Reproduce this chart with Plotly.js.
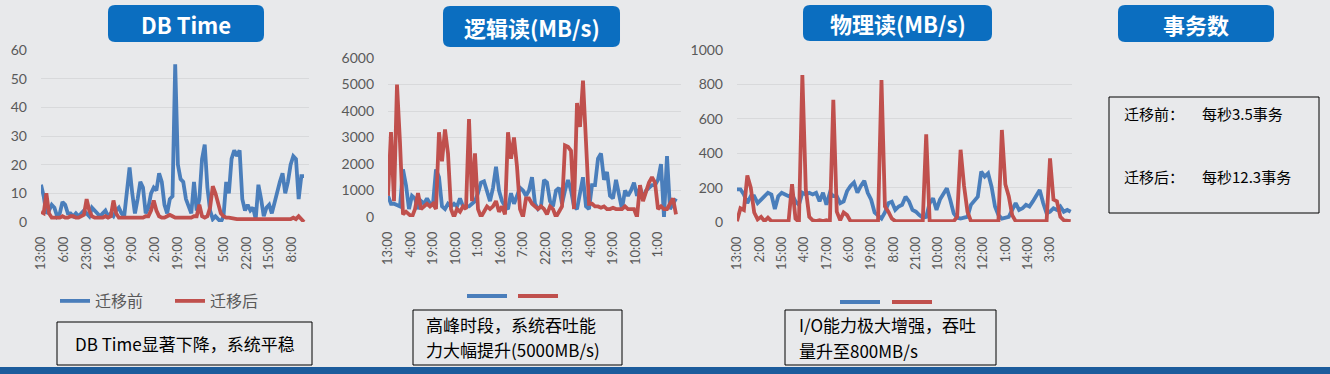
<!DOCTYPE html>
<html><head><meta charset="utf-8">
<script src="https://cdn.plot.ly/plotly-3.0.1.min.js"></script>
<style>html,body{margin:0;padding:0;background:#e8e9eb;}#chart{width:1330px;height:374px;}</style>
</head><body><div id="chart"></div>
<script>
// ---------- DATA ----------
// Hour-indexed series, sampled every 2 hours (index 0,2,4,...)
const dbTimeTickLabels = ["13:00","6:00","23:00","16:00","9:00","2:00","19:00","12:00","5:00","22:00","15:00","8:00"];
const dbTimeBefore = [13,9,3,4,6,5,2,3,7,6, 3,3,2,3,2,3,4,3,2,5, 4,3,2,3,4,2,3,2,4,5, 3,2,12,19,10,3,8,14,12,3,
  5,10,12,11,17,14,6,3,8,9, 55,20,15,14,8,5,3,14,4,8, 22,27,12,4,1,2,1,0,2,14, 10,22,25,23,25,8,4,6,4,5,
  1,13,8,2,5,6,3,7,10,14, 17,10,14,20,23,22,8,16,16];
const dbTimeAfter = [3.5,3,10,3,1.5,1.5,1.5,1.5,2,1.5, 1.5,2,2,1.5,1.5,2,2.5,8,4,2, 1.5,1.5,1.5,1.5,2,1.5,2,7.5,3,1.5,
  1.5,1.5,1.5,1.5,1.5,1.5,1.5,1.5,1.5,2, 2,4,7.5,4,2,1.5,1.5,2,2.5,2, 1.5,1.5,1.5,1.5,1.5,1.5,1.5,2,2,6,
  2,1.5,2,5,12.5,10,6,3,2,1.5, 1.5,1.2,1.2,1,1,1,1,1,1,1, 1,1,1,1,1,1,1,1,1,1, 1,1,1,1,1.5,1,2,1,0];

const logicalTickLabels = ["13:00","4:00","19:00","10:00","1:00","16:00","7:00","22:00","13:00","4:00","19:00","10:00","1:00"];
const logicalBefore = [800,500,500,450,400,1800,1200,300,800,700, 300,600,500,700,500,500,1800,1500,400,300,
  500,400,500,400,700,400,400,400,500,600, 900,1300,1350,1000,600,1100,1900,1000,600,400,
  300,900,500,800,1100,1000,800,1000,1500,500, 300,400,1400,1300,600,400,1000,1100,500,1000,
  1400,1000,400,300,1000,1500,400,300,1200,1200, 2200,2400,1400,1700,800,700,1400,900,300,1000,
  800,1000,1300,800,1100,700,1000,1100,1200,1200, 1400,2000,0,2300,300,500,700];
const logicalAfter = [800,3200,600,5000,2800,100,200,100,0,300, 900,300,400,500,400,500,300,3200,2100,3300,
  2400,300,0,300,200,400,300,3700,600,2400, 300,0,200,400,300,400,600,200,400,100,
  3200,2200,3000,1900,300,0,700,700,500,400, 300,400,300,100,400,300,0,200,400,2700,
  2650,2500,300,4300,3400,5150,3000,500,500,400, 400,350,400,300,300,350,300,300,300,400,
  300,300,300,0,1200,600,1000,1300,1500,1300, 300,400,300,300,500,700,100];

const physicalTickLabels = ["13:00","2:00","15:00","4:00","17:00","6:00","19:00","8:00","21:00","10:00","23:00","12:00","1:00","14:00","3:00"];
const physicalBefore = [190,190,160,110,150,150,110,130,150,170, 160,75,150,170,160,150,160,120,100,170,
  160,170,160,170,120,170,100,170,150,150, 110,120,180,210,230,170,210,240,170,130,
  55,35,20,55,110,118,70,90,100,147, 120,70,60,40,25,30,110,138,70,130,
  167,196,128,50,25,20,25,30,100,128, 147,293,264,283,205,90,40,20,25,30,
  70,110,70,80,100,90,120,150,186,110, 50,60,80,70,90,60,70,60];
const physicalAfter = [5,80,70,270,200,55,15,30,5,25, 5,5,5,5,5,5,220,20,0,855,
  190,30,10,5,10,5,10,5,710,60, 10,55,40,5,5,5,10,5,5,5,
  5,5,825,90,60,20,5,5,5,5, 5,5,5,5,5,510,5,5,5,5,
  5,5,5,5,30,420,210,60,5,5, 5,5,5,5,5,5,5,535,220,150,
  40,5,5,5,5,5,5,5,5,5, 5,370,130,120,30,10,5,5];

const seriesNames = ["迁移前","迁移后"];
const panelTitles = ["DB Time","逻辑读(MB/s)","物理读(MB/s)","事务数"];
const note1 = "DB Time显著下降，系统平稳";
const note2Lines = ["高峰时段，系统吞吐能","力大幅提升(5000MB/s)"];
const note3Lines = ["I/O能力极大增强，吞吐","量升至800MB/s"];
const txLabels = ["迁移前：","迁移后："];
const txValues = ["每秒3.5事务","每秒12.3事务"];

// ---------- LAYOUT HELPERS ----------
const W=1330,H=374;
const X=px=>px/W, Y=py=>1-py/H;
const BLUE='#4a7ebb', RED='#c0504d', GRID='#d8d9db', TICK='#595959';
const NUM="Lato, 'Noto Sans CJK SC', sans-serif";
const CJK="'Noto Sans CJK SC', 'Noto Sans', sans-serif";
const step2 = a => a.map((_,i)=>i*2);

function tr(y, color, name, xa, ya, show){
  return {x: step2(y), y: y, type:'scatter', mode:'lines', name: name, xaxis: xa, yaxis: ya,
    line:{color: color, width:3.8}, showlegend: show, hoverinfo:'skip'};
}
const data = [
  tr(dbTimeBefore, BLUE, seriesNames[0], 'x','y', true),
  tr(dbTimeAfter, RED, seriesNames[1], 'x','y', true),
  tr(logicalBefore, BLUE, seriesNames[0], 'x2','y2', false),
  tr(logicalAfter, RED, seriesNames[1], 'x2','y2', false),
  tr(physicalBefore, BLUE, seriesNames[0], 'x3','y3', false),
  tr(physicalAfter, RED, seriesNames[1], 'x3','y3', false)
];

function xax(d0,d1,range,labels,every,anchor){
  return {domain:[X(d0),X(d1)], range:range, anchor:anchor, tickmode:'array',
    tickvals: labels.map((_,k)=>k*every), ticktext: labels, tickangle:-90,
    showgrid:false, zeroline:false, showline:false, ticks:'', automargin:false,
    tickfont:{size:13,color:TICK,family:NUM}, ticklabelstandoff:11, fixedrange:true};
}
function yax(p0,p1,range,dtick,anchor){
  return {domain:[Y(p0),Y(p1)], range:range, dtick:dtick, anchor:anchor,
    showgrid:true, gridcolor:GRID, gridwidth:1, zeroline:false, showline:false, ticks:'',
    automargin:false, tickfont:{size:14,color:TICK,family:NUM}, ticklabelstandoff:13, fixedrange:true};
}

function rr(x0,y0,x1,y1,r){
  const p=(x,y)=>`${X(x).toFixed(5)},${Y(y).toFixed(5)}`;
  return `M${p(x0+r,y0)}L${p(x1-r,y0)}Q${p(x1,y0)} ${p(x1,y0+r)}L${p(x1,y1-r)}Q${p(x1,y1)} ${p(x1-r,y1)}L${p(x0+r,y1)}Q${p(x0,y1)} ${p(x0,y1-r)}L${p(x0,y0+r)}Q${p(x0,y0)} ${p(x0+r,y0)}Z`;
}
const titleBoxes=[[108,5,264,42],[443,6,620,47],[803,5,992,41],[1118,5,1274,42]];
const noteBoxes=[[57,322,312,365],[413,310,622,365],[785,310,996,365]];

const shapes=[];
titleBoxes.forEach(b=>shapes.push({type:'path',xref:'paper',yref:'paper',path:rr(b[0],b[1],b[2],b[3],7),fillcolor:'#0b6ec0',line:{width:0}}));
noteBoxes.forEach(b=>shapes.push({type:'rect',xref:'paper',yref:'paper',x0:X(b[0]),x1:X(b[2]),y0:Y(b[3]),y1:Y(b[1]),line:{color:'#000',width:1},fillcolor:'rgba(0,0,0,0)'}));
shapes.push({type:'rect',xref:'paper',yref:'paper',x0:X(1109),x1:X(1319),y0:Y(213),y1:Y(97),line:{color:'#000',width:1},fillcolor:'rgba(0,0,0,0)'});
// legend samples for panels 2 and 3 (no text in original)
[[467,507,296,BLUE],[518,558,296,RED],[840,880,302,BLUE],[892,932,302,RED]].forEach(s=>shapes.push({type:'line',xref:'paper',yref:'paper',x0:X(s[0]),x1:X(s[1]),y0:Y(s[2]),y1:Y(s[2]),line:{color:s[3],width:4}}));
// bottom band
shapes.push({type:'rect',xref:'paper',yref:'paper',x0:0,x1:1,y0:0,y1:Y(367),fillcolor:'#1d5c9c',line:{width:0}});

const ann=[];
function A(px,py,text,size,opts){
  return Object.assign({xref:'paper',yref:'paper',x:X(px),y:Y(py),text:text,showarrow:false,
    xanchor:'left',yanchor:'middle',font:{size:size,color:'#000',family:CJK}},opts||{});
}
const tc=[[186,24],[531.5,27],[897.5,23],[1196,24]];
panelTitles.forEach((t,i)=>ann.push(A(tc[i][0],tc[i][1],t,22,{xanchor:'center',font:{size:22,color:'#fff',family:CJK,weight:700}})));
ann.push(A(184.5,343.5,note1,17,{xanchor:'center'}));
ann.push(A(424,324,note2Lines[0],17));
ann.push(A(424,349,note2Lines[1],17));
ann.push(A(797,324,note3Lines[0],17));
ann.push(A(797,350,note3Lines[1],17));
[113,176].forEach((py,i)=>{
  ann.push(A(1122,py,txLabels[i],15));
  ann.push(A(1200,py,txValues[i],15));
});

const layout={
  width:W,height:H,margin:{l:0,r:0,t:0,b:0},
  paper_bgcolor:'#e8e9eb',plot_bgcolor:'rgba(0,0,0,0)',
  font:{family:CJK,color:TICK},
  xaxis: xax(41,309.4,[0,200],dbTimeTickLabels,17,'y'),
  yaxis: yax(222,50,[0,60],10,'x'),
  xaxis2: xax(388,680.5,[0,195],logicalTickLabels,15,'y2'),
  yaxis2: yax(217,58,[0,6000],1000,'x2'),
  xaxis3: xax(737,1072.4,[0,195],physicalTickLabels,13,'y3'),
  yaxis3: yax(222,50,[0,1000],200,'x3'),
  showlegend:true,
  legend:{orientation:'h',x:X(55),xanchor:'left',y:Y(301),yanchor:'middle',bgcolor:'rgba(0,0,0,0)',
    font:{size:16,color:TICK,family:CJK},entrywidth:70,traceorder:'normal'},
  shapes:shapes, annotations:ann
};
Plotly.newPlot('chart',data,layout,{displayModeBar:false,staticPlot:true});
</script></body></html>
